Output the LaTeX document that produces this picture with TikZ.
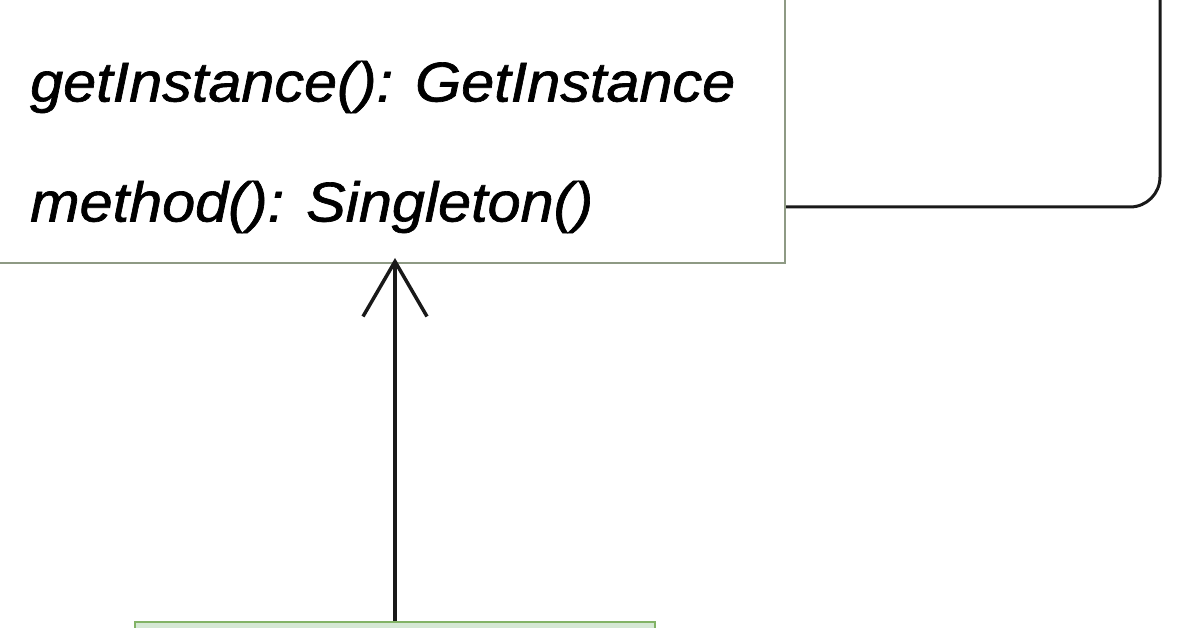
\documentclass[tikz,border=0pt]{standalone}
\usepackage{fontspec}
\setmainfont{Liberation Sans}
\newfontfamily\umlfont[FakeBold=1.2, FakeStretch=1.06]{Liberation Sans}
\usetikzlibrary{arrows.meta, positioning}
\definecolor{boxline}{HTML}{8E9A84}
\definecolor{subfill}{HTML}{D5E8D4}
\definecolor{subline}{HTML}{82B366}

\begin{document}
\begin{tikzpicture}[x=1pt, y=-1pt,
    classbox/.style={rectangle, draw=boxline, line width=2pt, fill=white, inner sep=0pt},
    member/.style={anchor=west, inner sep=0pt, font=\umlfont\fontsize{56}{60}\selectfont\itshape},
    link/.style={draw=black!90, line width=3.5pt}]

    \useasboundingbox (0, 0) rectangle (1200, 628);
    \clip (0, 0) rectangle (1200, 628);

    % Singleton class
    \node at (382.5, 121.5) [classbox, minimum width=805pt, minimum height=283pt] (singleton) {};
    \node at (30, 87) [member] (getinst) {getInstance(): GetInstance};
    \node at (30, 207) [member] (method) {method(): Singleton()};

    % Self link
    \coordinate (loopend) at (1160, -20);
    \draw[link, line width=3pt, rounded corners=30pt] (method -| singleton.east) -- (loopend |- method) -- (loopend);

    % Subclass
    \node at (395, 680) [classbox, draw=subline, fill=subfill, minimum width=520pt, minimum height=116pt] (sub) {};

    \draw[link, shorten >=-6pt, -{Straight Barb[length=55pt, width=64pt, line width=3.5pt]}] (sub.north) -- (sub.north |- singleton.south);

\end{tikzpicture}
\end{document}
